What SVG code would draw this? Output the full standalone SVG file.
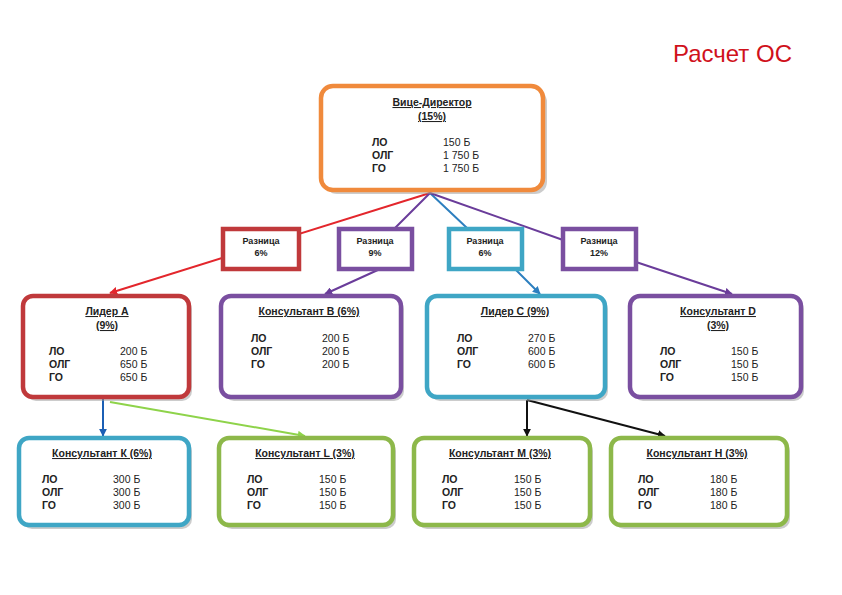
<svg xmlns="http://www.w3.org/2000/svg" width="842" height="595" viewBox="0 0 842 595">
<style>
.b{fill:#fff;stroke-width:4.5}
.sh{fill:#999;opacity:.5}
text{font-family:"Liberation Sans",Arial,sans-serif;font-size:10.5px;fill:#222}
.h{font-weight:bold;text-decoration:underline}
.l{font-weight:bold}
.d{font-weight:bold;font-size:9px}
.c{text-anchor:middle}
.ln{stroke-width:2;fill:none}
</style>
<defs>
<marker id="a" viewBox="0 0 10 10" refX="9" refY="5" markerWidth="4" markerHeight="4" orient="auto"><path d="M0,0L10,5L0,10z" fill="context-stroke"/></marker>
</defs>
<rect width="842" height="595" fill="#fff"/>
<text x="792" y="62" style="font-size:24px;fill:#d0111b;text-anchor:end">Расчет ОС</text>
<g id="connectors">
<path class="ln" stroke="#e3262c" d="M430,193L110,293" marker-end="url(#a)"/>
<path class="ln" stroke="#6a3c9a" d="M430,193L395,228M380,269L325,294" marker-end="url(#a)"/>
<path class="ln" stroke="#2d7fbf" d="M430,193L467,228M515,269L540,294" marker-end="url(#a)"/>
<path class="ln" stroke="#6a3c9a" d="M430,193L563,240M636,262L732,294" marker-end="url(#a)"/>
<path class="ln" stroke="#1b5fb5" stroke-width="3" d="M103,398L103,436" marker-end="url(#a)"/>
<path class="ln" stroke="#8ed34a" d="M110,402L305,436" marker-end="url(#a)"/>
<path class="ln" stroke="#111" stroke-width="1.5" d="M527,400L527,436" marker-end="url(#a)"/>
<path class="ln" stroke="#111" stroke-width="1.5" d="M527,400L665,436" marker-end="url(#a)"/>
</g>
<g id="vd"><rect class="sh" x="325" y="90" width="222" height="104" rx="12"/><rect class="b" stroke="#f08a3c" x="321" y="86" width="222" height="104" rx="12"/>
<text class="h c" x="432" y="106">Вице-Директор</text><text class="h c" x="432" y="120">(15%)</text>
<text class="l" x="372" y="146">ЛО</text><text class="l" x="372" y="159">ОЛГ</text><text class="l" x="372" y="172">ГО</text>
<text x="443" y="146">150 Б</text><text x="443" y="159">1 750 Б</text><text x="443" y="172">1 750 Б</text></g>
<g id="d1"><rect class="b" stroke="#c0393b" stroke-width="3" x="223" y="229" width="76" height="40"/><text class="d c" x="261" y="244">Разница</text><text class="d c" x="261" y="256">6%</text></g>
<g id="d2"><rect class="b" stroke="#7a4fa0" stroke-width="3" x="339" y="229" width="73" height="40"/><text class="d c" x="375" y="244">Разница</text><text class="d c" x="375" y="256">9%</text></g>
<g id="d3"><rect class="b" stroke="#3fa6c5" stroke-width="3" x="449" y="229" width="73" height="40"/><text class="d c" x="485" y="244">Разница</text><text class="d c" x="485" y="256">6%</text></g>
<g id="d4"><rect class="b" stroke="#7a4fa0" stroke-width="3" x="563" y="229" width="73" height="40"/><text class="d c" x="599" y="244">Разница</text><text class="d c" x="599" y="256">12%</text></g>
<g id="la"><rect class="sh" x="26" y="299" width="166" height="102" rx="10"/><rect class="b" stroke="#c0393b" x="23" y="296" width="166" height="101" rx="10"/>
<text class="h c" x="107" y="315">Лидер А</text><text class="h c" x="107" y="329">(9%)</text>
<text class="l" x="49" y="355">ЛО</text><text class="l" x="49" y="368">ОЛГ</text><text class="l" x="49" y="381">ГО</text>
<text x="120" y="355">200 Б</text><text x="120" y="368">650 Б</text><text x="120" y="381">650 Б</text></g>
<g id="kb"><rect class="sh" x="224" y="299" width="180" height="102" rx="10"/><rect class="b" stroke="#7a4fa0" x="221" y="296" width="180" height="101" rx="10"/>
<text class="h c" x="309" y="315">Консультант В (6%)</text>
<text class="l" x="251" y="342">ЛО</text><text class="l" x="251" y="355">ОЛГ</text><text class="l" x="251" y="368">ГО</text>
<text x="322" y="342">200 Б</text><text x="322" y="355">200 Б</text><text x="322" y="368">200 Б</text></g>
<g id="lc"><rect class="sh" x="430" y="299" width="178" height="102" rx="10"/><rect class="b" stroke="#3fa6c5" x="427" y="296" width="178" height="101" rx="10"/>
<text class="h c" x="515" y="315">Лидер С (9%)</text>
<text class="l" x="457" y="342">ЛО</text><text class="l" x="457" y="355">ОЛГ</text><text class="l" x="457" y="368">ГО</text>
<text x="528" y="342">270 Б</text><text x="528" y="355">600 Б</text><text x="528" y="368">600 Б</text></g>
<g id="kd"><rect class="sh" x="633" y="299" width="171" height="102" rx="10"/><rect class="b" stroke="#7a4fa0" x="630" y="296" width="171" height="101" rx="10"/>
<text class="h c" x="718" y="315">Консультант D</text><text class="h c" x="718" y="329">(3%)</text>
<text class="l" x="660" y="355">ЛО</text><text class="l" x="660" y="368">ОЛГ</text><text class="l" x="660" y="381">ГО</text>
<text x="731" y="355">150 Б</text><text x="731" y="368">150 Б</text><text x="731" y="381">150 Б</text></g>
<g id="kk"><rect class="sh" x="22" y="441" width="170" height="88" rx="10"/><rect class="b" stroke="#3fa6c5" x="19" y="438" width="170" height="87" rx="10"/>
<text class="h c" x="102" y="457">Консультант К (6%)</text>
<text class="l" x="42" y="483">ЛО</text><text class="l" x="42" y="496">ОЛГ</text><text class="l" x="42" y="509">ГО</text>
<text x="113" y="483">300 Б</text><text x="113" y="496">300 Б</text><text x="113" y="509">300 Б</text></g>
<g id="kl"><rect class="sh" x="222" y="441" width="174" height="88" rx="10"/><rect class="b" stroke="#8db84a" x="219" y="438" width="174" height="87" rx="10"/>
<text class="h c" x="305" y="457">Консультант L (3%)</text>
<text class="l" x="247" y="483">ЛО</text><text class="l" x="247" y="496">ОЛГ</text><text class="l" x="247" y="509">ГО</text>
<text x="319" y="483">150 Б</text><text x="319" y="496">150 Б</text><text x="319" y="509">150 Б</text></g>
<g id="km"><rect class="sh" x="417" y="441" width="176" height="88" rx="10"/><rect class="b" stroke="#8db84a" x="414" y="438" width="176" height="87" rx="10"/>
<text class="h c" x="500" y="457">Консультант М (3%)</text>
<text class="l" x="442" y="483">ЛО</text><text class="l" x="442" y="496">ОЛГ</text><text class="l" x="442" y="509">ГО</text>
<text x="514" y="483">150 Б</text><text x="514" y="496">150 Б</text><text x="514" y="509">150 Б</text></g>
<g id="kn"><rect class="sh" x="614" y="441" width="176" height="88" rx="10"/><rect class="b" stroke="#8db84a" x="611" y="438" width="176" height="87" rx="10"/>
<text class="h c" x="697" y="457">Консультант Н (3%)</text>
<text class="l" x="638" y="483">ЛО</text><text class="l" x="638" y="496">ОЛГ</text><text class="l" x="638" y="509">ГО</text>
<text x="710" y="483">180 Б</text><text x="710" y="496">180 Б</text><text x="710" y="509">180 Б</text></g>
</svg>
